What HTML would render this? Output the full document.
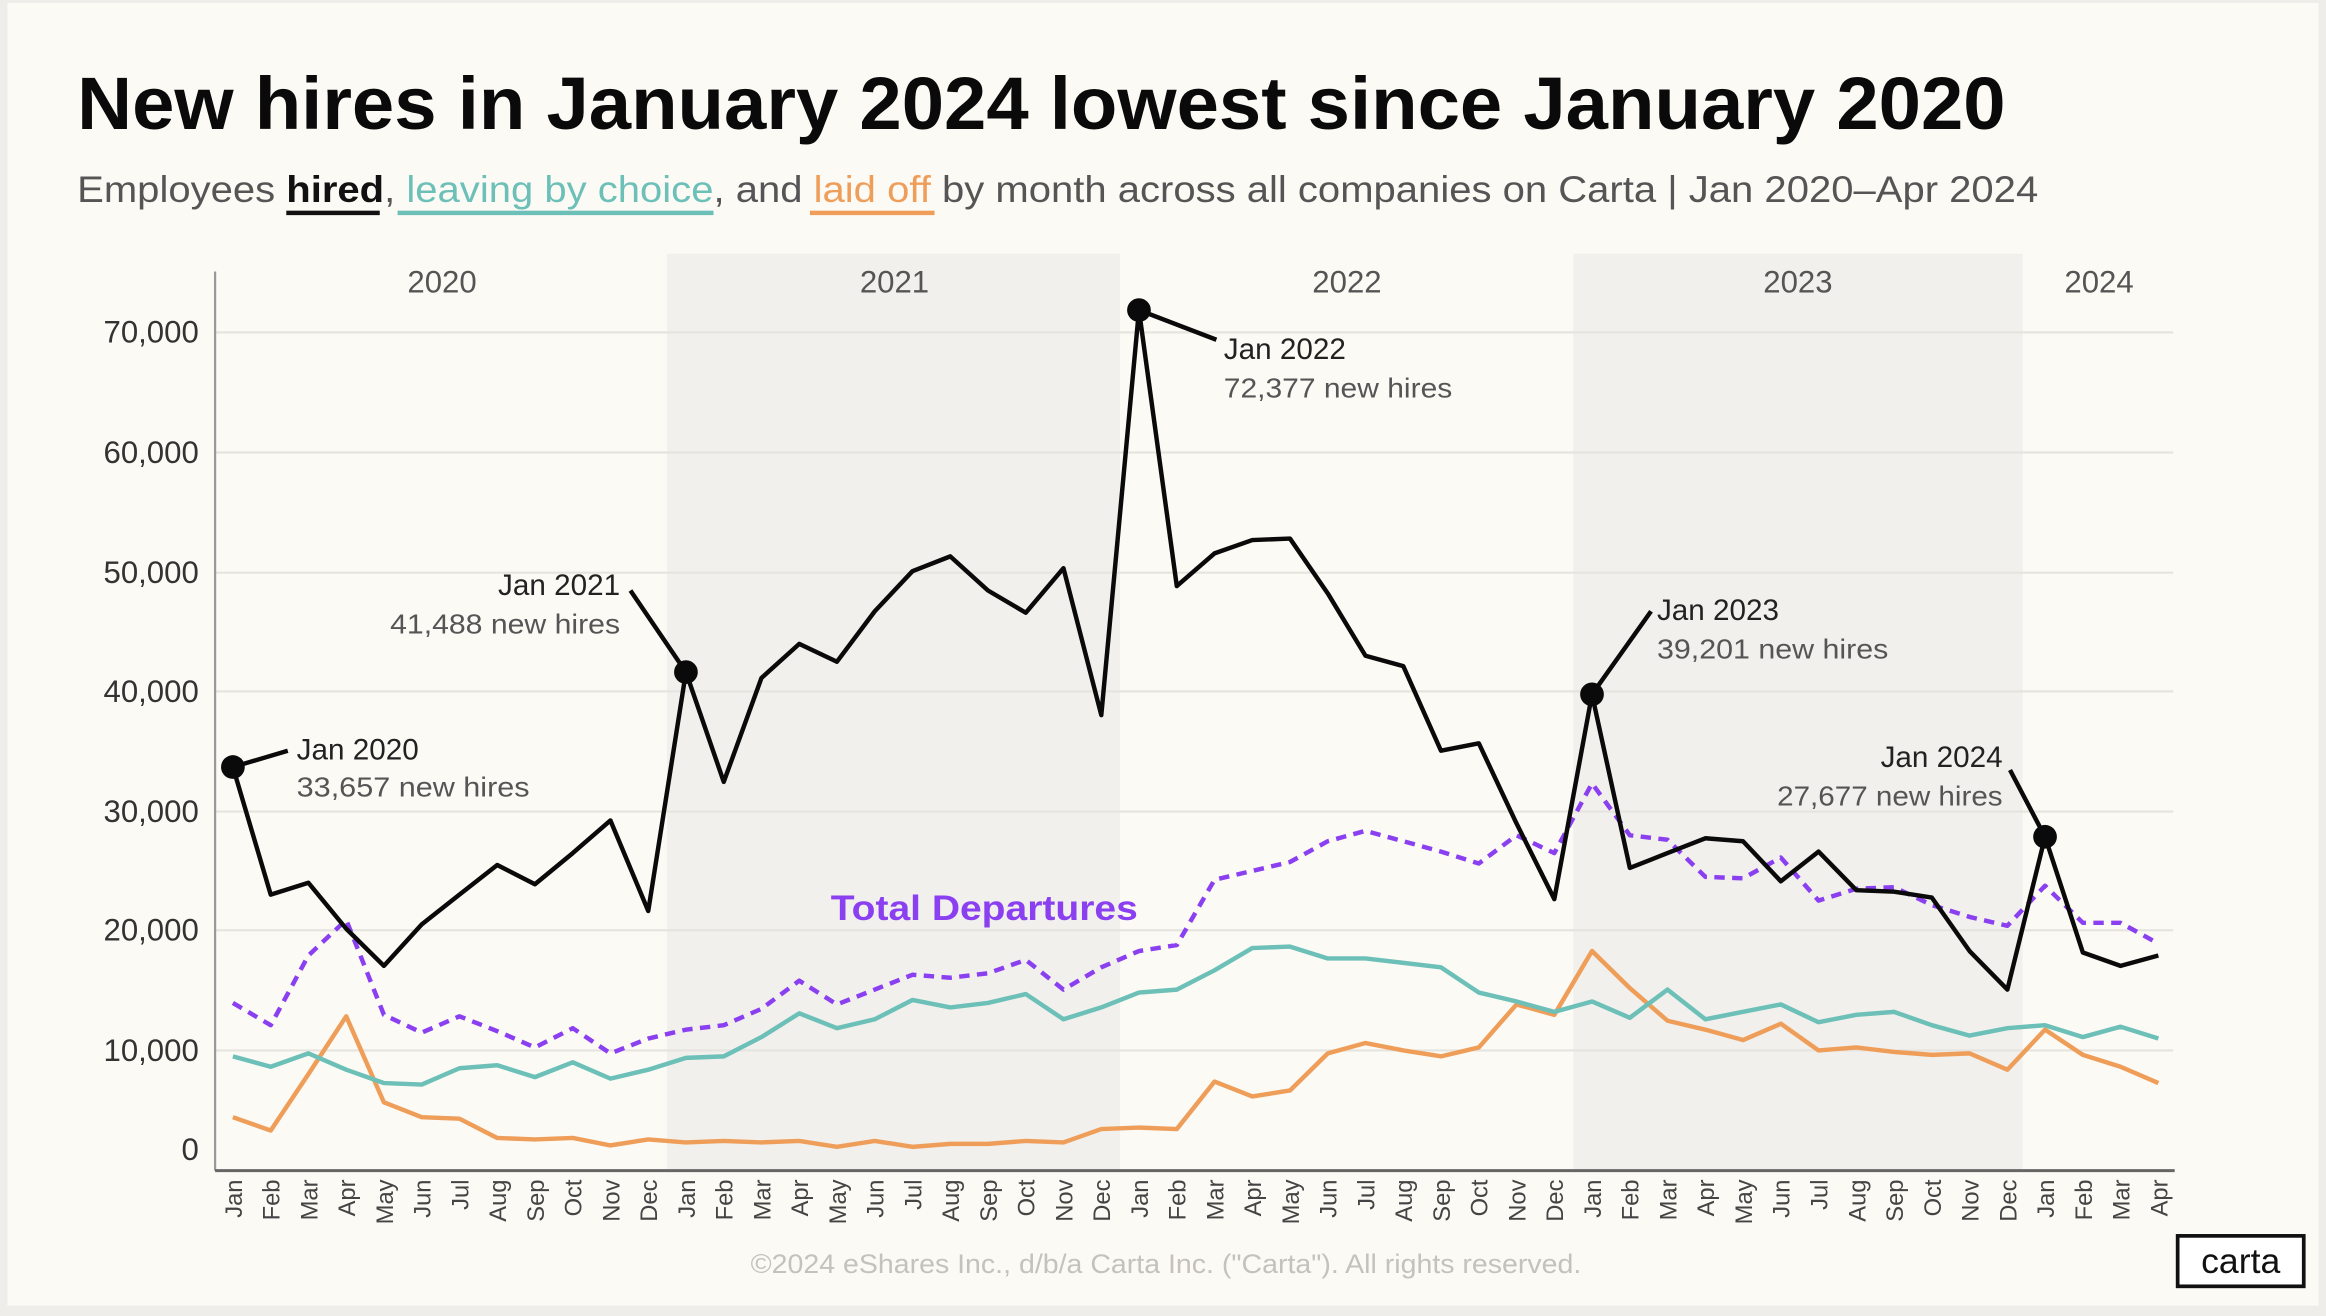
<!DOCTYPE html>
<html><head><meta charset="utf-8"><style>
html,body{margin:0;padding:0;background:#eeedea;}
svg{display:block;}
text{font-family:"Liberation Sans","DejaVu Sans",sans-serif;}
</style></head><body>
<svg width="2326" height="1316" viewBox="0 0 1568 887" preserveAspectRatio="none" xmlns="http://www.w3.org/2000/svg">
<rect x="0" y="0" width="1568" height="887" fill="#eeedea"/>
<rect x="5" y="2" width="1558" height="878" fill="#fcfaf5"/>
<text x="52" y="87" font-size="50" font-weight="bold" fill="#0a0a0a" textLength="1300" lengthAdjust="spacingAndGlyphs">New hires in January 2024 lowest since January 2020</text>
<text x="52" y="136" font-size="25" fill="#555" textLength="1322" lengthAdjust="spacingAndGlyphs">Employees <tspan fill="#111" font-weight="bold">hired</tspan>, <tspan fill="#6cc0b8">leaving by choice</tspan>, and <tspan fill="#ef9e5a">laid off</tspan> by month across all companies on Carta | Jan 2020–Apr 2024</text>
<rect x="193" y="142" width="63" height="3" fill="#111"/>
<rect x="268" y="142" width="213" height="3" fill="#6cc0b8"/>
<rect x="546" y="142" width="84" height="3" fill="#ef9e5a"/>
<rect x="449.7" y="171" width="305.3" height="617" fill="#f1f0ec"/>
<rect x="1060.5" y="171" width="303" height="617" fill="#f1f0ec"/>
<g stroke="#e6e4df" stroke-width="1.5">
<line x1="145" x2="1465" y1="224" y2="224"/><line x1="145" x2="1465" y1="305" y2="305"/><line x1="145" x2="1465" y1="386" y2="386"/><line x1="145" x2="1465" y1="466" y2="466"/><line x1="145" x2="1465" y1="547" y2="547"/><line x1="145" x2="1465" y1="627" y2="627"/><line x1="145" x2="1465" y1="708" y2="708"/>
</g>
<line x1="145" y1="183" x2="145" y2="789" stroke="#999" stroke-width="1.5"/>
<line x1="145" y1="789" x2="1466" y2="789" stroke="#666" stroke-width="2"/>
<g font-size="21" fill="#333" text-anchor="end">
<text x="134" y="231">70,000</text><text x="134" y="312">60,000</text><text x="134" y="393">50,000</text><text x="134" y="473">40,000</text><text x="134" y="554">30,000</text><text x="134" y="634">20,000</text><text x="134" y="715">10,000</text><text x="134" y="782">0</text>
</g>
<g font-size="21" fill="#555" text-anchor="middle">
<text x="298" y="197">2020</text><text x="603" y="197">2021</text><text x="908" y="197">2022</text><text x="1212" y="197">2023</text><text x="1415" y="197">2024</text>
</g>
<g font-size="16" fill="#444" text-anchor="end">
<text transform="translate(163,795) rotate(-90)">Jan</text><text transform="translate(188.5,795) rotate(-90)">Feb</text><text transform="translate(213.9,795) rotate(-90)">Mar</text><text transform="translate(239.4,795) rotate(-90)">Apr</text><text transform="translate(264.8,795) rotate(-90)">May</text><text transform="translate(290.3,795) rotate(-90)">Jun</text><text transform="translate(315.7,795) rotate(-90)">Jul</text><text transform="translate(341.2,795) rotate(-90)">Aug</text><text transform="translate(366.6,795) rotate(-90)">Sep</text><text transform="translate(392.1,795) rotate(-90)">Oct</text><text transform="translate(417.5,795) rotate(-90)">Nov</text><text transform="translate(443,795) rotate(-90)">Dec</text>
<text transform="translate(468.4,795) rotate(-90)">Jan</text><text transform="translate(493.9,795) rotate(-90)">Feb</text><text transform="translate(519.3,795) rotate(-90)">Mar</text><text transform="translate(544.8,795) rotate(-90)">Apr</text><text transform="translate(570.2,795) rotate(-90)">May</text><text transform="translate(595.7,795) rotate(-90)">Jun</text><text transform="translate(621.1,795) rotate(-90)">Jul</text><text transform="translate(646.6,795) rotate(-90)">Aug</text><text transform="translate(672,795) rotate(-90)">Sep</text><text transform="translate(697.5,795) rotate(-90)">Oct</text><text transform="translate(722.9,795) rotate(-90)">Nov</text><text transform="translate(748.4,795) rotate(-90)">Dec</text>
<text transform="translate(773.8,795) rotate(-90)">Jan</text><text transform="translate(799.3,795) rotate(-90)">Feb</text><text transform="translate(824.7,795) rotate(-90)">Mar</text><text transform="translate(850.2,795) rotate(-90)">Apr</text><text transform="translate(875.6,795) rotate(-90)">May</text><text transform="translate(901.1,795) rotate(-90)">Jun</text><text transform="translate(926.5,795) rotate(-90)">Jul</text><text transform="translate(952,795) rotate(-90)">Aug</text><text transform="translate(977.4,795) rotate(-90)">Sep</text><text transform="translate(1002.9,795) rotate(-90)">Oct</text><text transform="translate(1028.3,795) rotate(-90)">Nov</text><text transform="translate(1053.8,795) rotate(-90)">Dec</text>
<text transform="translate(1079.2,795) rotate(-90)">Jan</text><text transform="translate(1104.7,795) rotate(-90)">Feb</text><text transform="translate(1130.1,795) rotate(-90)">Mar</text><text transform="translate(1155.6,795) rotate(-90)">Apr</text><text transform="translate(1181,795) rotate(-90)">May</text><text transform="translate(1206.5,795) rotate(-90)">Jun</text><text transform="translate(1231.9,795) rotate(-90)">Jul</text><text transform="translate(1257.4,795) rotate(-90)">Aug</text><text transform="translate(1282.8,795) rotate(-90)">Sep</text><text transform="translate(1308.3,795) rotate(-90)">Oct</text><text transform="translate(1333.7,795) rotate(-90)">Nov</text><text transform="translate(1359.2,795) rotate(-90)">Dec</text>
<text transform="translate(1384.6,795) rotate(-90)">Jan</text><text transform="translate(1410.1,795) rotate(-90)">Feb</text><text transform="translate(1435.5,795) rotate(-90)">Mar</text><text transform="translate(1461,795) rotate(-90)">Apr</text>
</g>
<g fill="none" stroke-linejoin="round" stroke-width="3">
<polyline stroke="#ef9e5a" points="157,753 182.5,762 207.9,724 233.4,685 258.8,743 284.3,753 309.7,754 335.2,767 360.6,768 386.1,767 411.5,772 437,768 462.4,770 487.9,769 513.3,770 538.8,769 564.2,773 589.7,769 615.1,773 640.6,771 666,771 691.5,769 716.9,770 742.4,761 767.8,760 793.3,761 818.7,729 844.2,739 869.6,735 895.1,710 920.5,703 946,708 971.4,712 996.9,706 1022.3,677 1047.8,684 1073.2,641 1098.7,666 1124.1,688 1149.6,694 1175,701 1200.5,690 1225.9,708 1251.4,706 1276.8,709 1302.3,711 1327.7,710 1353.2,721 1378.6,694 1404.1,711 1429.5,719 1455,730"/>
<polyline stroke="#6cc0b8" points="157,712 182.5,719 207.9,710 233.4,721 258.8,730 284.3,731 309.7,720 335.2,718 360.6,726 386.1,716 411.5,727 437,721 462.4,713 487.9,712 513.3,699 538.8,683 564.2,693 589.7,687 615.1,674 640.6,679 666,676 691.5,670 716.9,687 742.4,679 767.8,669 793.3,667 818.7,654 844.2,639 869.6,638 895.1,646 920.5,646 946,649 971.4,652 996.9,669 1022.3,675 1047.8,682 1073.2,675 1098.7,686 1124.1,667 1149.6,687 1175,682 1200.5,677 1225.9,689 1251.4,684 1276.8,682 1302.3,691 1327.7,698 1353.2,693 1378.6,691 1404.1,699 1429.5,692 1455,700"/>
<polyline stroke="#8a3ff0" stroke-dasharray="7,5" points="157,676 182.5,691 207.9,644 233.4,620 258.8,684 284.3,696 309.7,685 335.2,695 360.6,706 386.1,693 411.5,710 437,700 462.4,694 487.9,691 513.3,680 538.8,661 564.2,677 589.7,667 615.1,657 640.6,659 666,656 691.5,647 716.9,667 742.4,652 767.8,641 793.3,637 818.7,593 844.2,587 869.6,581 895.1,567 920.5,560 946,567 971.4,574 996.9,582 1022.3,563 1047.8,575 1073.2,528 1098.7,563 1124.1,566 1149.6,591 1175,592 1200.5,578 1225.9,607 1251.4,599 1276.8,598 1302.3,610 1327.7,618 1353.2,624 1378.6,597 1404.1,622 1429.5,622 1455,636"/>
<polyline stroke="#0a0a0a" points="157,517 182.5,603 207.9,595 233.4,626 258.8,651 284.3,623 309.7,603 335.2,583 360.6,596 386.1,575 411.5,553 437,614 462.4,453 487.9,527 513.3,457 538.8,434 564.2,446 589.7,412 615.1,385 640.6,375 666,398 691.5,413 716.9,383 742.4,482 767.8,209 793.3,395 818.7,373 844.2,364 869.6,363 895.1,400 920.5,442 946,449 971.4,506 996.9,501 1022.3,555 1047.8,606 1073.2,468 1098.7,585 1124.1,575 1149.6,565 1175,567 1200.5,594 1225.9,574 1251.4,600 1276.8,601 1302.3,605 1327.7,641 1353.2,667 1378.6,564 1404.1,642 1429.5,651 1455,644"/>
</g>
<g stroke="#0a0a0a" stroke-width="3">
<line x1="157" y1="517" x2="194" y2="506"/>
<line x1="462.4" y1="453" x2="425" y2="398"/>
<line x1="767.8" y1="209" x2="820" y2="229"/>
<line x1="1073.2" y1="468" x2="1113" y2="412"/>
<line x1="1378.6" y1="564" x2="1355" y2="519"/>
</g>
<g fill="#0a0a0a">
<circle cx="157" cy="517" r="8"/><circle cx="462.4" cy="453" r="8"/><circle cx="767.8" cy="209" r="8"/><circle cx="1073.2" cy="468" r="8"/><circle cx="1378.6" cy="564" r="8"/>
</g>
<g font-size="20">
<text x="200" y="512" fill="#222">Jan 2020</text><text x="200" y="537" fill="#555" font-size="19" textLength="157" lengthAdjust="spacingAndGlyphs">33,657 new hires</text>
<text x="418" y="401" fill="#222" text-anchor="end">Jan 2021</text><text x="418" y="427" fill="#555" font-size="19" text-anchor="end" textLength="155" lengthAdjust="spacingAndGlyphs">41,488 new hires</text>
<text x="825" y="242" fill="#222">Jan 2022</text><text x="825" y="268" fill="#555" font-size="19" textLength="154" lengthAdjust="spacingAndGlyphs">72,377 new hires</text>
<text x="1117" y="418" fill="#222">Jan 2023</text><text x="1117" y="444" fill="#555" font-size="19" textLength="156" lengthAdjust="spacingAndGlyphs">39,201 new hires</text>
<text x="1350" y="517" fill="#222" text-anchor="end">Jan 2024</text><text x="1350" y="543" fill="#555" font-size="19" text-anchor="end" textLength="152" lengthAdjust="spacingAndGlyphs">27,677 new hires</text>
</g>
<text x="560" y="620" font-size="24" font-weight="bold" fill="#8a3ff0" textLength="207" lengthAdjust="spacingAndGlyphs">Total Departures</text>
<text x="506" y="858" font-size="18" fill="#c4c2bd" textLength="560" lengthAdjust="spacingAndGlyphs">©2024 eShares Inc., d/b/a Carta Inc. ("Carta"). All rights reserved.</text>
<rect x="1468" y="833" width="85" height="34" fill="#fff" stroke="#111" stroke-width="2.5"/>
<text x="1510.5" y="858" font-size="24" fill="#111" text-anchor="middle">carta</text>
</svg>
</body></html>
